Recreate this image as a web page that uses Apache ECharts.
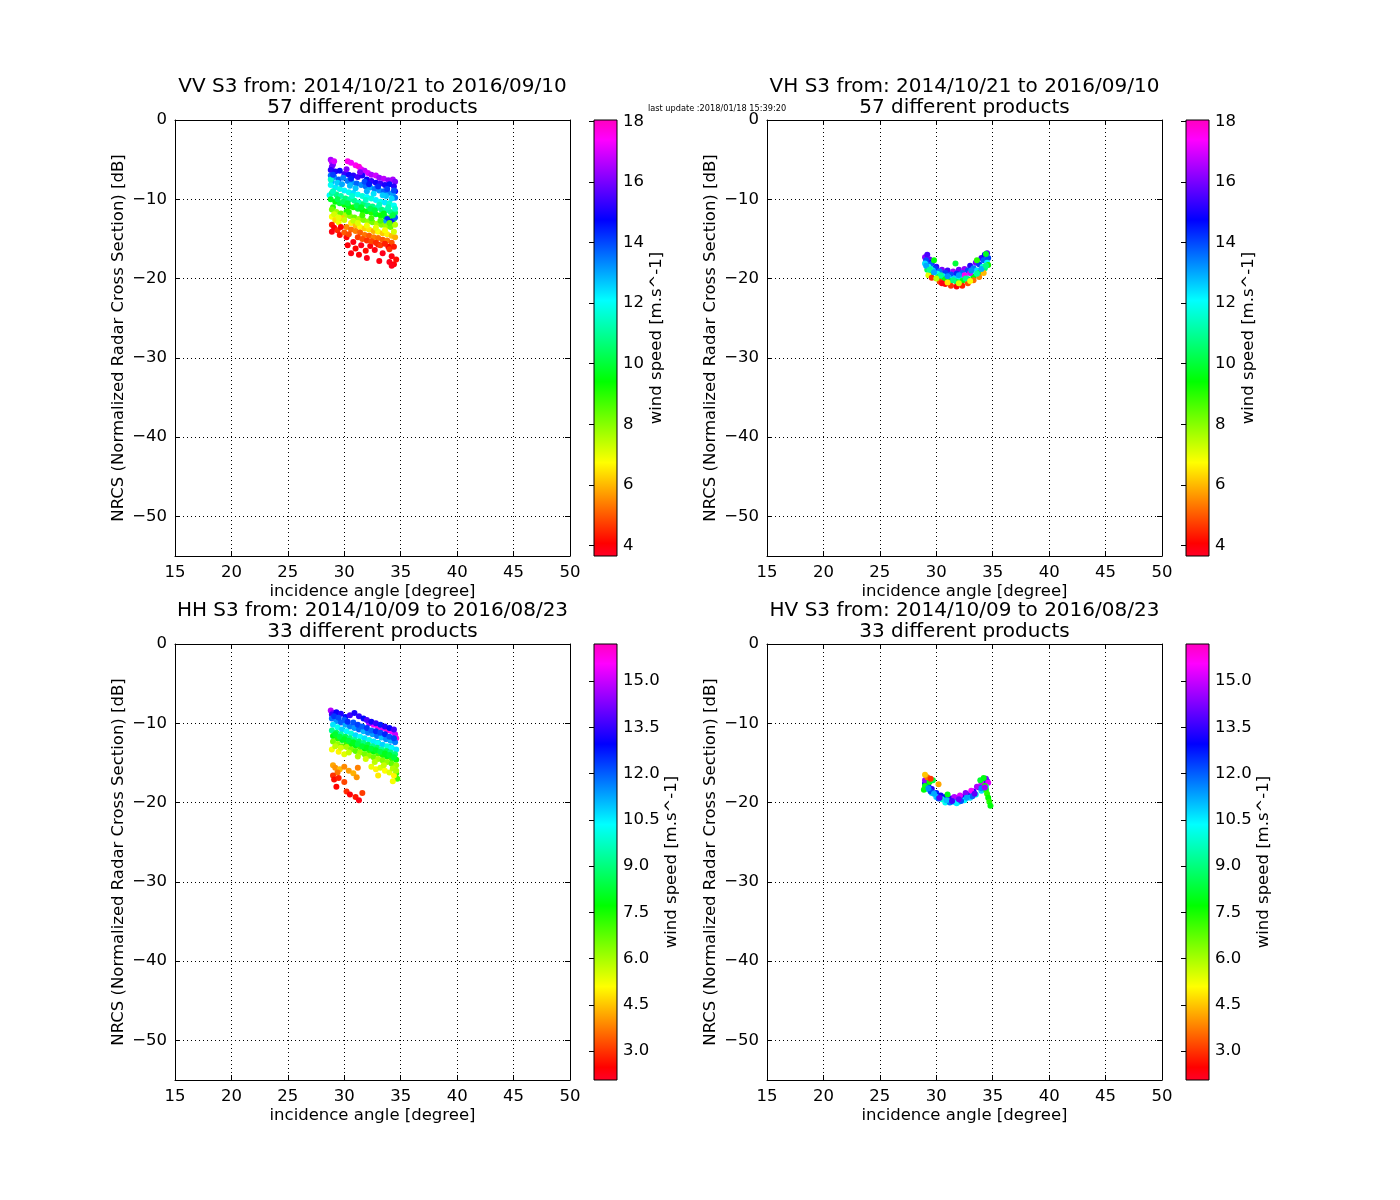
<!DOCTYPE html>
<html>
<head>
<meta charset="utf-8">
<script src="https://cdn.jsdelivr.net/npm/echarts@6/dist/echarts.min.js"></script>
<style>html,body{margin:0;padding:0;background:#fff}#c{width:1400px;height:1200px}</style>
</head>
<body>
<div id="c"></div>
<script>
// ---------------- DATA ----------------
// each point: [incidence angle (deg), NRCS (dB), wind speed (m/s)]
const vvPoints = [
[28.8,-5.0,16.5],[28.9,-5.3,16.8],[29.0,-5.6,16.2],[28.9,-5.9,15.9],[29.1,-5.2,17.0],
[30.3,-5.2,17.6],[30.6,-5.4,17.3],[31.0,-5.7,17.5],[31.3,-5.9,17.8],
[31.5,-6.2,17.2],[31.8,-6.4,16.8],[32.1,-6.7,17.0],[32.4,-6.9,16.6],[32.8,-7.0,16.9],[33.1,-7.3,16.4],[33.5,-7.4,16.7],[33.9,-7.6,16.3],[34.3,-7.5,16.5],[34.5,-7.8,16.0],
[28.8,-6.3,15.2],[29.2,-6.5,15.0],[29.6,-6.4,14.8],[30.0,-6.8,15.3],[30.4,-6.9,14.9],[30.8,-7.0,15.1],[31.2,-7.2,15.4],[31.6,-7.0,15.0],[32.0,-7.5,14.7],[32.4,-7.7,15.2],[32.8,-7.9,14.9],[33.2,-8.0,15.3],[33.6,-8.2,15.0],[34.0,-8.1,14.6],[34.4,-8.4,15.1],[34.5,-9.0,14.8],
[28.8,-7.0,13.6],[29.1,-7.2,13.2],[29.5,-7.5,13.8],[29.9,-7.3,13.4],[30.3,-7.7,13.5],[30.7,-7.9,13.1],[31.1,-8.0,13.7],[31.5,-8.2,13.3],[31.9,-8.4,13.6],[32.3,-8.5,13.0],[32.7,-8.7,13.5],[33.1,-8.9,13.2],[33.5,-9.0,13.7],[33.9,-9.2,13.4],[34.3,-9.3,13.1],[34.5,-9.8,13.5],[28.9,-7.8,12.9],[30.5,-8.3,12.8],[32.0,-9.0,12.9],[33.7,-9.6,12.7],
[28.8,-8.2,12.0],[29.2,-8.5,12.3],[29.6,-8.7,11.8],[30.0,-8.9,12.2],[30.4,-9.1,11.9],[30.8,-9.2,12.4],[31.2,-9.4,12.0],[31.6,-9.6,11.7],[32.0,-9.7,12.1],[32.4,-9.9,11.8],[32.8,-10.1,12.2],[33.2,-10.3,11.9],[33.6,-10.4,12.3],[34.0,-10.5,11.6],[34.4,-10.8,12.0],[28.7,-9.5,12.1],[28.8,-7.5,11.5],
[28.9,-9.2,11.0],[29.3,-9.4,10.8],[29.7,-9.6,11.2],[30.1,-9.9,10.7],[30.5,-10.0,11.1],[30.9,-10.2,10.9],[31.3,-10.4,11.3],[31.7,-10.6,10.6],[32.1,-10.8,11.0],[32.5,-10.9,10.8],[32.9,-11.1,11.2],[33.3,-11.3,10.7],[33.7,-11.4,11.1],[34.1,-11.6,10.9],[34.5,-11.7,10.5],
[28.8,-10.0,9.8],[29.2,-10.3,9.5],[29.6,-10.5,10.0],[30.0,-10.7,9.3],[30.4,-10.9,9.7],[30.8,-11.0,9.2],[31.2,-11.2,9.9],[31.6,-11.4,9.4],[32.0,-11.5,9.6],[32.4,-11.7,9.1],[32.8,-11.9,9.8],[33.2,-12.0,9.3],[33.6,-12.2,9.7],[34.0,-12.4,9.0],[34.4,-12.5,9.5],[29.0,-11.0,9.0],[30.2,-11.5,9.2],
[33.8,-12.5,14.2],[34.2,-12.8,14.5],[34.5,-12.3,13.8],[33.5,-12.9,13.0],
[28.9,-11.3,8.2],[29.3,-11.6,7.8],[29.7,-11.8,8.4],[30.1,-12.0,7.6],[30.5,-12.1,8.0],[30.9,-12.3,8.3],[31.3,-12.5,7.7],[31.7,-12.6,8.1],[32.1,-12.8,7.9],[32.5,-12.9,8.2],[32.9,-13.1,7.6],[33.3,-13.2,8.0],[33.7,-13.4,7.8],[34.1,-13.5,8.3],[34.5,-13.2,7.5],
[28.9,-12.2,6.8],[29.2,-12.6,6.4],[29.5,-12.9,6.9],[29.8,-12.4,6.2],[30.6,-13.0,6.6],[31.0,-13.3,6.1],[31.4,-13.5,6.7],[31.8,-13.7,6.3],[32.2,-13.8,6.5],[32.6,-14.0,6.0],[33.0,-14.1,6.8],[33.4,-14.3,6.2],[33.8,-14.4,6.6],[34.2,-14.6,6.1],[34.5,-14.8,5.9],
[30.2,-13.5,5.5],[30.6,-13.8,5.2],[31.0,-14.0,5.4],[31.4,-14.2,5.1],[31.8,-14.5,5.3],[32.2,-14.6,5.0],[32.6,-14.8,5.4],[33.0,-14.9,5.2],[33.4,-15.1,5.0],[33.8,-15.2,5.3],[34.2,-15.5,4.9],
[28.9,-13.2,4.3],[29.1,-13.6,4.0],[29.4,-13.9,4.5],[29.7,-13.5,4.1],[28.9,-14.1,3.9],[29.6,-14.5,4.2],[30.2,-14.8,4.0],[30.8,-15.4,3.9],[31.0,-16.2,4.1],[31.5,-15.8,3.8],[31.9,-16.5,4.2],[32.3,-15.9,4.0],[32.7,-16.4,3.9],[33.0,-15.7,4.3],[33.4,-16.8,3.8],[33.9,-16.0,4.1],[34.2,-17.2,3.9],[34.0,-17.9,3.8],[34.4,-18.2,4.0],[34.6,-17.6,4.2],[34.2,-18.4,3.8],[30.3,-15.8,4.0],
[29.0,-6.9,14.1],[29.4,-7.9,12.6],[29.8,-8.1,13.0],[30.2,-6.2,16.1],[30.6,-7.4,14.4],[31.0,-8.6,12.7],[31.4,-6.6,16.0],[31.8,-7.8,14.0],[32.2,-8.1,14.5],[32.6,-9.3,12.4],[33.0,-8.4,14.3],[33.4,-9.5,12.6],[33.8,-8.7,14.1],[34.2,-9.9,12.5],[34.4,-8.9,14.0],
[29.0,-9.0,11.4],[29.4,-10.0,10.2],[29.9,-10.3,10.4],[30.3,-10.5,10.1],[30.7,-9.6,11.6],[31.1,-10.8,10.3],[31.5,-11.0,9.9],[31.9,-10.1,11.5],[32.3,-11.2,10.2],[32.7,-11.4,10.0],[33.1,-10.7,11.4],[33.5,-11.8,9.6],[33.9,-11.0,11.3],[34.3,-12.0,10.1],[34.5,-11.2,11.6],
[29.1,-11.9,7.2],[29.5,-12.3,7.0],[30.0,-12.6,7.3],[30.4,-11.6,9.0],[30.8,-12.7,7.4],[31.2,-13.0,7.1],[31.6,-12.0,8.8],[32.0,-13.3,6.9],[32.4,-12.4,8.7],[32.8,-13.6,7.0],[33.2,-12.7,8.6],[33.6,-13.9,6.8],[34.0,-13.0,8.5],[34.4,-14.1,7.2],
[30.0,-14.2,5.0],[30.4,-14.4,4.8],[31.2,-14.8,4.7],[31.6,-15.0,4.9],[32.0,-15.2,4.6],[32.4,-15.3,4.8],[32.8,-15.5,4.5],[33.2,-15.8,4.7],[33.6,-15.6,4.4],[34.0,-16.3,4.6],[34.4,-16.0,4.3],[31.3,-17.0,4.0],[32.0,-17.4,3.8],[33.1,-17.8,3.9],[30.6,-16.8,3.9]
];
const vhPoints = [
[29.0,-17.3,16.2],[29.2,-17.0,15.5],[29.4,-17.6,15.8],[29.6,-18.0,14.8],[30.0,-18.5,15.2],[30.5,-18.9,16.0],[31.0,-19.0,15.4],[31.5,-19.1,16.5],[32.0,-18.9,15.9],[32.5,-18.8,16.3],[33.0,-18.4,15.1],[33.5,-18.0,16.0],[34.0,-17.4,15.3],[34.3,-17.0,14.9],[34.5,-16.8,15.6],
[29.1,-17.7,14.0],[29.5,-18.2,13.8],[29.9,-18.7,14.2],[30.3,-19.1,13.6],[30.8,-19.3,14.1],[31.3,-19.5,13.9],[31.8,-19.4,14.3],[32.3,-19.3,13.7],[32.8,-19.0,14.0],[33.3,-18.7,13.5],[33.8,-18.2,14.2],[34.2,-17.7,13.8],[34.6,-17.4,14.0],
[29.0,-18.1,12.4],[29.3,-18.5,12.0],[29.7,-19.0,12.6],[30.1,-19.4,11.8],[30.6,-19.7,12.3],[31.1,-19.9,12.1],[31.6,-20.0,12.5],[32.1,-19.9,11.9],[32.6,-19.7,12.2],[33.1,-19.4,12.0],[33.6,-19.0,12.4],[34.1,-18.5,11.7],[34.5,-18.0,12.2],[29.5,-18.8,11.5],[30.9,-20.2,11.6],[32.4,-20.1,11.4],
[29.2,-18.9,10.2],[29.6,-19.3,9.5],[30.2,-19.8,10.0],[30.7,-20.1,9.3],[31.2,-20.3,9.8],[31.8,-20.4,10.3],[32.3,-20.3,9.6],[32.8,-20.1,10.1],[33.3,-19.8,9.4],[33.8,-19.3,9.9],[34.3,-18.7,10.4],[34.6,-18.3,9.2],[29.8,-17.7,9.5],[31.7,-18.1,10.0],[34.4,-16.9,9.8],[33.6,-17.7,9.0],
[29.3,-19.6,7.0],[29.6,-19.9,4.5],[30.3,-20.4,4.8],[30.8,-20.7,4.2],[31.3,-20.9,4.6],[31.8,-21.0,4.0],[32.3,-20.9,4.4],[32.8,-20.6,4.9],[33.3,-20.2,5.2],[33.8,-19.8,5.5],[34.2,-19.3,6.0],[30.5,-20.6,3.9],
[32.5,-19.6,17.5],[33.0,-19.3,17.0],
[29.1,-18.4,13.0],[29.4,-18.9,11.0],[29.8,-19.2,13.0],[30.4,-19.6,11.0],[31.0,-19.7,13.2],[31.5,-20.2,10.8],[32.0,-19.6,13.1],[32.6,-20.0,10.9],[33.1,-19.0,13.3],[33.6,-19.4,11.1],[34.0,-18.8,12.9],[34.4,-18.4,10.8],[30.0,-20.0,7.5],[31.0,-20.5,6.5],[32.0,-20.6,7.2],[33.0,-20.3,6.8]
];
const hhPoints = [
[28.8,-8.4,14.8],[29.0,-8.7,14.2],[32.6,-10.2,15.5],[33.0,-10.5,15.8],[33.4,-10.6,15.2],[33.8,-10.9,16.0],[34.2,-11.0,15.6],[34.5,-11.4,15.0],[32.2,-10.0,14.6],[34.6,-11.9,15.9],
[28.9,-8.9,13.5],[29.3,-8.6,13.0],[29.7,-8.8,13.3],[30.1,-9.2,12.8],[30.5,-9.0,13.6],[30.9,-8.7,13.2],[31.3,-9.1,13.4],[31.7,-9.4,12.9],[32.0,-9.6,13.7],[32.4,-9.8,13.1],[32.8,-10.0,13.5],[33.2,-10.2,12.7],[33.6,-10.4,13.3],[34.0,-10.6,13.0],[34.4,-10.8,13.6],
[28.9,-9.4,11.8],[29.3,-9.7,11.5],[29.7,-9.9,12.0],[30.1,-10.2,11.2],[30.5,-10.4,11.7],[30.9,-10.6,11.4],[31.3,-10.8,11.9],[31.7,-11.0,11.1],[32.1,-11.2,11.6],[32.5,-11.4,11.3],[32.9,-11.6,11.8],[33.3,-11.8,11.0],[33.7,-12.0,11.5],[34.1,-12.2,11.2],[34.5,-12.4,11.7],[33.0,-12.5,12.2],[34.0,-13.0,12.0],
[29.0,-10.2,10.6],[29.4,-10.5,10.2],[29.8,-10.8,10.8],[30.2,-11.0,10.4],[30.6,-11.3,10.0],[31.0,-11.5,10.7],[31.4,-11.7,10.3],[31.8,-11.9,10.6],[32.2,-12.1,10.1],[32.6,-12.3,10.5],[33.0,-12.5,10.2],[33.4,-12.7,10.8],[33.8,-12.9,10.0],[34.2,-13.1,10.4],[34.6,-13.3,10.6],
[28.9,-10.9,9.2],[29.3,-11.2,8.8],[29.7,-11.4,9.4],[30.1,-11.7,8.6],[30.5,-11.9,9.0],[30.9,-12.1,9.3],[31.3,-12.3,8.7],[31.7,-12.5,9.1],[32.1,-12.7,8.5],[32.5,-12.9,9.2],[32.9,-13.1,8.8],[33.3,-13.3,9.4],[33.7,-13.5,8.6],[34.1,-13.7,9.0],[34.5,-13.9,8.9],
[29.0,-11.6,7.8],[29.4,-11.9,7.4],[29.8,-12.1,8.0],[30.2,-12.4,7.2],[30.6,-12.6,7.6],[31.0,-12.8,7.9],[31.4,-13.0,7.1],[31.8,-13.2,7.7],[32.2,-13.4,7.3],[32.6,-13.6,7.8],[33.0,-13.8,7.0],[33.4,-14.0,7.5],[33.8,-14.2,7.9],[34.2,-14.4,7.2],[34.6,-14.6,7.6],[34.4,-15.5,7.8],[34.6,-16.3,7.4],[34.7,-17.0,7.0],
[29.0,-12.3,6.5],[29.4,-12.6,6.2],[29.8,-12.9,6.7],[30.2,-13.0,6.0],[30.6,-13.3,6.4],[31.0,-13.5,6.8],[31.4,-13.7,6.1],[31.8,-13.9,6.5],[32.2,-14.1,6.3],[32.6,-14.3,6.6],[33.0,-14.5,6.0],[33.4,-14.7,6.4],[33.8,-14.9,6.2],[34.2,-15.1,6.7],[34.6,-15.3,6.1],
[28.9,-13.3,5.2],[29.5,-13.6,5.0],[30.0,-13.9,5.4],[32.4,-15.5,5.3],[32.8,-15.8,5.0],[33.2,-15.6,5.5],[33.6,-16.0,5.1],[34.0,-16.2,5.4],[34.4,-16.6,5.0],[33.0,-16.6,4.9],[34.3,-17.3,5.2],
[29.0,-15.3,4.2],[29.2,-15.6,4.0],[29.6,-15.8,4.4],[30.0,-15.5,3.9],[30.4,-16.0,4.1],[30.8,-16.3,4.3],[31.2,-15.6,3.8],[31.1,-16.8,4.0],[29.4,-16.2,3.7],
[29.0,-16.6,3.0],[29.1,-17.1,2.6],[29.5,-16.9,2.8],[29.3,-18.0,2.5],[30.2,-18.6,2.9],[30.5,-19.0,2.4],[31.0,-19.3,2.7],[31.3,-19.7,2.3],[31.6,-18.8,3.1],[30.0,-17.4,3.2],
[29.1,-9.1,12.4],[29.5,-9.3,12.2],[30.0,-9.6,12.0],[30.3,-9.8,12.5],[30.8,-9.9,12.1],[31.2,-10.2,12.3],[31.6,-10.4,12.0],[32.0,-10.6,12.4],[32.4,-10.9,11.9],[32.8,-11.0,12.5],[33.2,-11.2,12.2],[33.6,-11.4,12.6],[34.0,-11.7,12.1],[34.4,-11.9,12.3],
[29.2,-11.4,8.2],[29.6,-11.7,8.4],[30.0,-12.0,8.1],[30.4,-12.2,8.3],[30.8,-12.4,8.0],[31.2,-12.6,8.4],[31.6,-12.9,8.2],[32.0,-13.1,8.0],[32.4,-13.2,8.3],[32.8,-13.4,8.1],[33.2,-13.6,8.4],[33.6,-13.8,8.0],[34.0,-14.0,8.2],[34.4,-14.3,8.3],
[29.2,-12.9,5.8],[29.7,-13.1,5.6],[30.4,-13.7,5.7],[31.2,-14.2,5.9],[31.9,-14.5,5.6],[32.7,-14.9,5.8],[33.5,-15.3,5.7],[34.3,-15.7,5.9],[34.6,-16.0,6.0]
];
const hvPoints = [
[29.0,-17.6,13.0],[29.3,-17.9,12.8],[29.6,-18.3,13.3],[30.0,-18.8,12.6],[30.4,-19.1,13.1],[30.8,-19.3,12.9],[31.3,-19.5,13.4],[31.8,-19.5,12.7],[32.3,-19.3,13.2],[32.8,-19.0,12.5],[33.3,-18.6,13.0],[33.8,-18.1,13.4],[34.2,-17.6,12.8],[34.5,-17.3,13.1],
[29.0,-17.2,14.5],[31.6,-19.3,14.8],[32.1,-19.1,15.2],[32.6,-18.8,14.3],[33.1,-18.5,15.5],[33.6,-18.0,14.7],[34.0,-17.5,15.0],[34.4,-17.0,14.2],[34.6,-17.5,15.3],
[29.2,-18.3,10.5],[29.6,-18.8,10.0],[30.0,-19.3,10.8],[30.5,-19.6,9.8],[31.0,-19.8,10.4],[31.5,-19.9,10.9],[32.0,-19.9,9.7],[32.5,-19.7,10.3],[33.0,-19.4,10.6],[33.5,-19.0,10.1],[34.0,-18.5,10.7],[34.4,-18.0,9.9],[30.8,-20.0,10.2],[31.8,-20.1,10.5],
[29.5,-18.6,12.2],[30.2,-19.5,12.0],[31.2,-20.0,11.8],[32.2,-19.8,12.1],[33.2,-19.2,11.9],
[29.0,-17.9,8.0],[29.4,-17.4,7.6],[29.7,-17.2,8.3],[28.9,-18.4,7.8],[34.3,-17.9,7.5],[34.4,-18.4,7.9],[34.5,-18.9,7.3],[34.6,-19.4,7.7],[34.7,-19.9,7.4],[34.8,-20.4,7.8],[33.9,-17.2,8.2],[34.2,-16.9,7.9],[31.0,-19.0,8.0],
[29.2,-16.8,3.6],[30.2,-17.7,4.2],[29.5,-17.0,3.0],[29.0,-16.5,4.5],
[29.3,-18.2,11.5],[29.8,-18.9,11.2],[30.3,-19.4,13.8],[30.9,-19.7,11.0],[31.4,-19.8,13.6],[32.0,-19.6,14.0],[32.7,-19.4,11.3],[33.4,-18.9,13.9],[34.0,-18.2,11.6],[34.3,-18.1,14.6]
];
const titlesText = [
  'VV S3 from: 2014/10/21 to 2016/09/10\n57 different products',
  'VH S3 from: 2014/10/21 to 2016/09/10\n57 different products',
  'HH S3 from: 2014/10/09 to 2016/08/23\n33 different products',
  'HV S3 from: 2014/10/09 to 2016/08/23\n33 different products'
];
const xTicks = [15, 20, 25, 30, 35, 40, 45, 50];
const yTicks = [0, -10, -20, -30, -40, -50];
const xRange = [15, 50];
const yRange = [-55, 0];
const windRangeCo = [3.65, 18.05];     // VV / VH colorbar
const windRangeCross = [2.06, 16.2];   // HH / HV colorbar
const cbarTicksCo = [4, 6, 8, 10, 12, 14, 16, 18];
const cbarTicksCross = [3.0, 4.5, 6.0, 7.5, 9.0, 10.5, 12.0, 13.5, 15.0];
const lastUpdate = 'last update :2018/01/18 15:39:20';

// ---------------- STYLE / LAYOUT ----------------
const FONT = 'DejaVu Sans';
const FS = 16.5;
const gistStops = [[0,[255,0,41]],[0.03,[255,0,0]],[0.215,[255,255,0]],[0.4,[0,255,0]],[0.586,[0,255,255]],[0.77,[0,0,255]],[0.954,[255,0,255]],[1,[255,0,191]]];
function cmap(t){
  for(let i=1;i<gistStops.length;i++){
    const [t1,c1]=gistStops[i], [t0,c0]=gistStops[i-1];
    if(t<=t1){
      const f=(t-t0)/(t1-t0);
      return 'rgb('+c0.map((v,k)=>Math.round(v+(c1[k]-v)*f)).join(',')+')';
    }
  }
  return 'rgb(255,0,191)';
}
const palette = [];
for(let i=0;i<=200;i++) palette.push(cmap(i/200));
const gradStops = gistStops.map(([o,c])=>({offset:o,color:'rgb('+c.join(',')+')'}));

const plotRects = [
  {left:175, top:120, width:395, height:436},
  {left:767, top:120, width:395, height:436},
  {left:175, top:644, width:395, height:436},
  {left:767, top:644, width:395, height:436}
];
const cbarRects = [
  {left:594, top:120, width:23, height:436},
  {left:1186, top:120, width:23, height:436},
  {left:594, top:644, width:23, height:436},
  {left:1186, top:644, width:23, height:436}
];
const panelData = [vvPoints, vhPoints, hhPoints, hvPoints];
const panelRange = [windRangeCo, windRangeCo, windRangeCross, windRangeCross];
const panelTicks = [cbarTicksCo, cbarTicksCo, cbarTicksCross, cbarTicksCross];
const panelFmt = [v=>String(v), v=>String(v), v=>v.toFixed(1), v=>v.toFixed(1)];

const fmtMinus = v => (v < 0 ? '\u2212' + (-v) : String(v));
const labelStyle = {fontFamily: FONT, fontSize: FS, color: '#000'};

const grid = [], xAxis = [], yAxis = [], series = [], visualMap = [], title = [];
for (let i = 0; i < 4; i++) {
  grid.push(Object.assign({containLabel:false}, plotRects[i]));
  xAxis.push({gridIndex:i, type:'value', position:'bottom', min:xRange[0], max:xRange[1], interval:5,
    name:'incidence angle [degree]', nameLocation:'middle', nameGap:27,
    nameTextStyle:{fontFamily:FONT, fontSize:FS, color:'#000'},
    axisLine:{show:true, onZero:false, lineStyle:{color:'#000', width:1}},
    axisTick:{show:true, inside:true, length:5, lineStyle:{color:'#000'}},
    axisLabel:Object.assign({margin:8}, labelStyle),
    splitLine:{show:true, lineStyle:{color:'#000', width:1, type:[1,3]}}});
  xAxis.push({gridIndex:i, type:'value', position:'top', min:xRange[0], max:xRange[1], interval:5,
    axisLine:{show:true, onZero:false, lineStyle:{color:'#000', width:1}},
    axisTick:{show:true, inside:true, length:5, lineStyle:{color:'#000'}},
    axisLabel:{show:false}, splitLine:{show:false}});
  yAxis.push({gridIndex:i, type:'value', position:'left', min:yRange[0], max:yRange[1],
    name:'NRCS (Normalized Radar Cross Section) [dB]', nameLocation:'middle', nameGap:48, nameRotate:90,
    nameTextStyle:{fontFamily:FONT, fontSize:FS, color:'#000'},
    axisLine:{show:true, onZero:false, lineStyle:{color:'#000', width:1}},
    axisTick:{show:true, inside:true, length:5, customValues:yTicks, lineStyle:{color:'#000'}},
    axisLabel:Object.assign({margin:8, customValues:yTicks, formatter:fmtMinus}, labelStyle),
    splitLine:{show:true, lineStyle:{color:'#000', width:1, type:[1,3]}}});
  yAxis.push({gridIndex:i, type:'value', position:'right', min:yRange[0], max:yRange[1],
    axisLine:{show:true, onZero:false, lineStyle:{color:'#000', width:1}},
    axisTick:{show:true, inside:true, length:5, customValues:yTicks, lineStyle:{color:'#000'}},
    axisLabel:{show:false, customValues:yTicks}, splitLine:{show:false}});
  series.push({type:'scatter', xAxisIndex:2*i, yAxisIndex:2*i, data:panelData[i],
    symbol:'circle', symbolSize:6, itemStyle:{opacity:1}, silent:true, animation:false});
  visualMap.push({type:'continuous', show:false, seriesIndex:i, dimension:2,
    min:panelRange[i][0], max:panelRange[i][1], inRange:{color:palette}});
  const pr = plotRects[i];
  title.push({text:titlesText[i], left:pr.left + pr.width/2, top:pr.top - 44, textAlign:'center', padding:0,
    textStyle:{fontFamily:FONT, fontSize:20, fontWeight:'normal', color:'#000', lineHeight:21}});
}
for (let j = 0; j < 4; j++) {
  const gi = 4 + j;
  grid.push(Object.assign({containLabel:false}, cbarRects[j]));
  xAxis.push({gridIndex:gi, type:'value', min:0, max:1, show:false});
  yAxis.push({gridIndex:gi, type:'value', position:'right', min:panelRange[j][0], max:panelRange[j][1],
    name:'wind speed [m.s^-1]', nameLocation:'middle', nameGap:j>=2?46:31, nameRotate:90,
    nameTextStyle:{fontFamily:FONT, fontSize:FS, color:'#000'},
    axisLine:{show:false},
    axisTick:{show:true, inside:true, length:5, customValues:panelTicks[j], lineStyle:{color:'#000'}},
    axisLabel:Object.assign({margin:6, customValues:panelTicks[j], formatter:panelFmt[j]}, labelStyle),
    splitLine:{show:false}});
  series.push({type:'custom', xAxisIndex:8+j, yAxisIndex:8+j, data:[[0.5, panelRange[j][0]]],
    silent:true, animation:false, z:1,
    renderItem:function(params, api){
      const cs = params.coordSys;
      return {type:'rect', shape:{x:cs.x, y:cs.y, width:cs.width, height:cs.height},
        style:{fill:{type:'linear', x:0, y:1, x2:0, y2:0, colorStops:gradStops}, stroke:'#000', lineWidth:1}};
    }});
}

const chart = echarts.init(document.getElementById('c'), null, {renderer:'canvas'});
chart.setOption({
  backgroundColor:'#fff',
  animation:false,
  title, grid, xAxis, yAxis, visualMap, series,
  graphic:[{type:'text', left:648, top:105, style:{text:lastUpdate, fontFamily:FONT, fontSize:8.2, fill:'#000'}}]
});
</script>
</body>
</html>
